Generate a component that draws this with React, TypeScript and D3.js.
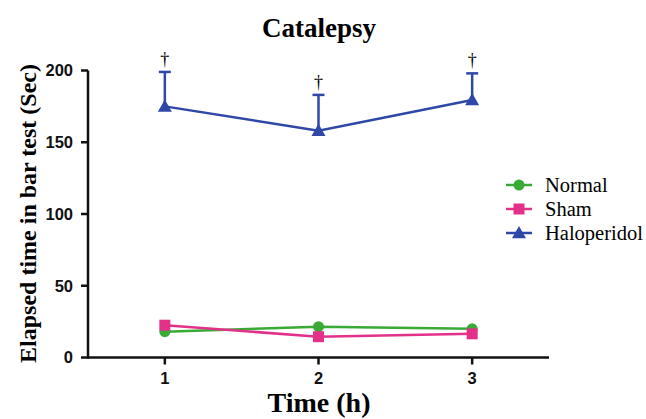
import React from "react";
import * as d3 from "d3";

const times = [1, 2, 3];
const normal = [18, 21.5, 20];
const sham = [22.5, 14.5, 16.5];
const haloperidol = [175, 158, 179.5];
const haloperidolErr = [24, 25, 18.5];
const yTicks = [0, 50, 100, 150, 200];
const seriesNames = ["Normal", "Sham", "Haloperidol"];

const W = 646;
const H = 419;
const x = d3.scaleLinear().domain([0.5, 3.5]).range([88, 549]);
const y = d3.scaleLinear().domain([0, 200]).range([357.5, 70.5]);

const GREEN = "#3aa935";
const PINK = "#e3318a";
const BLUE = "#2f47a6";

const line = d3
  .line<[number, number]>()
  .x((d) => x(d[0]))
  .y((d) => y(d[1]));

function Marker({ kind, cx, cy, color }: { kind: string; cx: number; cy: number; color: string }) {
  if (kind === "circle") return <circle cx={cx} cy={cy} r={5.5} fill={color} />;
  if (kind === "square") return <rect x={cx - 5.5} y={cy - 5.5} width={11} height={11} fill={color} />;
  const s = 7;
  return (
    <path
      d={`M${cx},${cy - s} L${cx + s},${cy + s * 0.75} L${cx - s},${cy + s * 0.75} Z`}
      fill={color}
    />
  );
}

export default function App() {
  const series = [
    { name: seriesNames[0], values: normal, color: GREEN, kind: "circle" },
    { name: seriesNames[1], values: sham, color: PINK, kind: "square" },
    { name: seriesNames[2], values: haloperidol, color: BLUE, kind: "triangle" },
  ];
  const serif = "'Liberation Serif', 'Times New Roman', serif";
  const sans = "'Liberation Sans', Arial, sans-serif";
  return (
    <svg width={W} height={H} style={{ position: "absolute", left: 0, top: 0 }}>
      <rect width={W} height={H} fill="#fff" />
      <text x={319} y={37} textAnchor="middle" fontFamily={serif} fontWeight="bold" fontSize={27}>
        Catalepsy
      </text>

      {/* upper error bars with significance daggers */}
      {times.map((t, i) => {
        const top = y(haloperidol[i] + haloperidolErr[i]);
        return (
          <g key={"e" + t}>
            <line x1={x(t)} x2={x(t)} y1={y(haloperidol[i])} y2={top} stroke={BLUE} strokeWidth={2.5} />
            <line x1={x(t) - 6} x2={x(t) + 6} y1={top} y2={top} stroke={BLUE} strokeWidth={2.5} />
            <text x={x(t)} y={top - 7} textAnchor="middle" fontFamily={serif} fontSize={18}>
              †
            </text>
          </g>
        );
      })}

      {series.map((s) => (
        <g key={s.name}>
          <path
            d={line(times.map((t, i) => [t, s.values[i]] as [number, number])) || ""}
            fill="none"
            stroke={s.color}
            strokeWidth={2.5}
          />
          {times.map((t, i) => (
            <Marker key={t} kind={s.kind} cx={x(t)} cy={y(s.values[i])} color={s.color} />
          ))}
        </g>
      ))}

      {/* axes */}
      <line x1={88} x2={88} y1={y(200)} y2={y(0) + 1.25} stroke="#111" strokeWidth={2.5} />
      <line x1={88} x2={549} y1={y(0)} y2={y(0)} stroke="#111" strokeWidth={2.5} />
      {yTicks.map((v) => (
        <g key={v}>
          <line x1={81} x2={88} y1={y(v)} y2={y(v)} stroke="#111" strokeWidth={2.5} />
          <text
            x={73}
            y={y(v)}
            dy="0.36em"
            textAnchor="end"
            fontFamily={sans}
            fontWeight="bold"
            fontSize={16.5}
            fill="#111"
          >
            {v}
          </text>
        </g>
      ))}
      {times.map((t) => (
        <g key={"xt" + t}>
          <line x1={x(t)} x2={x(t)} y1={y(0)} y2={y(0) + 7} stroke="#111" strokeWidth={2.5} />
          <text
            x={x(t)}
            y={y(0) + 26}
            textAnchor="middle"
            fontFamily={sans}
            fontWeight="bold"
            fontSize={16.5}
            fill="#111"
          >
            {t}
          </text>
        </g>
      ))}
      <text x={319} y={412} textAnchor="middle" fontFamily={serif} fontWeight="bold" fontSize={28}>
        Time (h)
      </text>
      <text
        transform={`translate(36,${(y(0) + y(200)) / 2 - 0.5}) rotate(-90)`}
        textAnchor="middle"
        fontFamily={serif}
        fontWeight="bold"
        fontSize={24}
      >
        Elapsed time in bar test (Sec)
      </text>

      {/* legend */}
      {series.map((s, i) => {
        const ly = 185 + i * 24;
        return (
          <g key={"l" + s.name}>
            <line x1={506} x2={532} y1={ly} y2={ly} stroke={s.color} strokeWidth={2.5} />
            <Marker kind={s.kind} cx={519} cy={ly} color={s.color} />
            <text x={545} y={ly} dy="0.33em" fontFamily={serif} fontSize={20.5}>
              {s.name}
            </text>
          </g>
        );
      })}
    </svg>
  );
}
